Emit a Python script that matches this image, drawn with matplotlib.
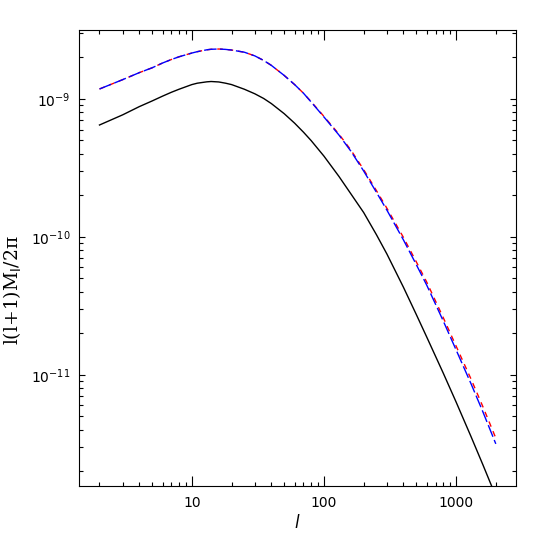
import matplotlib
matplotlib.use("Agg")
import matplotlib.pyplot as plt
from matplotlib.ticker import FixedLocator, FixedFormatter, LogLocator, NullFormatter

# multipole values
ell = [2, 3, 4, 5, 6, 7, 8, 10, 11, 13, 14, 16, 18, 20, 25, 30, 35, 40, 50, 60, 70, 80,
       100, 130, 160, 200, 250, 300, 400, 500, 600, 800, 1000, 1300, 1600, 2000]

# solid black curve
m_black = [6.47e-10, 7.67e-10, 8.79e-10, 9.66e-10, 1.047e-9, 1.117e-9, 1.175e-9, 1.27e-9,
           1.30e-9, 1.33e-9, 1.337e-9, 1.327e-9, 1.30e-9, 1.27e-9, 1.175e-9, 1.089e-9,
           1.007e-9, 9.25e-10, 7.82e-10, 6.67e-10, 5.74e-10, 4.99e-10, 3.85e-10, 2.74e-10,
           2.05e-10, 1.5e-10, 1.035e-10, 7.5e-11, 4.31e-11, 2.74e-11, 1.88e-11, 1.03e-11,
           6.37e-12, 3.56e-12, 2.22e-12, 1.32e-12]

# long-dashed blue curve
m_blue = [1.18e-9, 1.38e-9, 1.55e-9, 1.68e-9, 1.82e-9, 1.93e-9, 2.02e-9, 2.15e-9,
          2.20e-9, 2.27e-9, 2.29e-9, 2.30e-9, 2.285e-9, 2.26e-9, 2.18e-9, 2.05e-9,
          1.90e-9, 1.75e-9, 1.48e-9, 1.27e-9, 1.10e-9, 9.5e-10, 7.4e-10, 5.47e-10,
          4.18e-10, 3.0e-10, 2.1e-10, 1.56e-10, 9.5e-11, 6.3e-11, 4.47e-11, 2.46e-11,
          1.52e-11, 8.6e-12, 5.37e-12, 3.16e-12]

# short-dashed red curve
m_red = [1.18e-9, 1.38e-9, 1.55e-9, 1.68e-9, 1.82e-9, 1.93e-9, 2.02e-9, 2.15e-9,
         2.20e-9, 2.27e-9, 2.29e-9, 2.30e-9, 2.285e-9, 2.26e-9, 2.18e-9, 2.05e-9,
         1.90e-9, 1.75e-9, 1.48e-9, 1.27e-9, 1.10e-9, 9.55e-10, 7.47e-10, 5.55e-10,
         4.26e-10, 3.07e-10, 2.16e-10, 1.61e-10, 9.9e-11, 6.6e-11, 4.7e-11, 2.6e-11,
         1.62e-11, 9.3e-12, 5.85e-12, 3.48e-12]

xticks = [10, 100, 1000]
xticklabels = ["10", "100", "1000"]

plt.rcParams["mathtext.fontset"] = "dejavusans"

fig = plt.figure(figsize=(5.45, 5.45), dpi=100)
ax = fig.add_axes([0.145, 0.108, 0.802, 0.837])

ax.plot(ell, m_black, color="black", lw=1.0)
ax.plot(ell, m_red, color="red", lw=1.0, dashes=(4, 3.5))
ax.plot(ell, m_blue, color="blue", lw=1.0, dashes=(9, 2.5))

ax.set_xscale("log")
ax.set_yscale("log")
ax.set_xlim(1.4, 2850)
ax.set_ylim(1.56e-12, 3.16e-9)

ax.xaxis.set_major_locator(FixedLocator(xticks))
ax.xaxis.set_major_formatter(FixedFormatter(xticklabels))
ax.xaxis.set_minor_locator(LogLocator(base=10, subs=range(2, 10), numticks=20))
ax.xaxis.set_minor_formatter(NullFormatter())
ax.yaxis.set_major_locator(LogLocator(base=10, numticks=20))
ax.yaxis.set_minor_locator(LogLocator(base=10, subs=range(2, 10), numticks=20))
ax.yaxis.set_minor_formatter(NullFormatter())

ax.tick_params(which="both", direction="in", top=True, right=True, width=0.8, labelsize=10)
ax.tick_params(axis="x", which="major", length=7, pad=7)
ax.tick_params(axis="x", which="minor", length=3)
ax.tick_params(axis="y", which="major", length=4.5, pad=6)
ax.tick_params(axis="y", which="minor", length=2.8)
for s in ax.spines.values():
    s.set_linewidth(0.8)

ax.set_xlabel(r"$l$", fontsize=12, family="DejaVu Serif")
ax.set_ylabel("l(l+1)M" + r"$_{\rm l}$" + "/2π", fontsize=13.5, family="DejaVu Serif")
ax.xaxis.set_label_coords(0.5, -0.06)
ax.yaxis.set_label_coords(-0.125, 0.43)

fig.savefig("out.png", dpi=100)
